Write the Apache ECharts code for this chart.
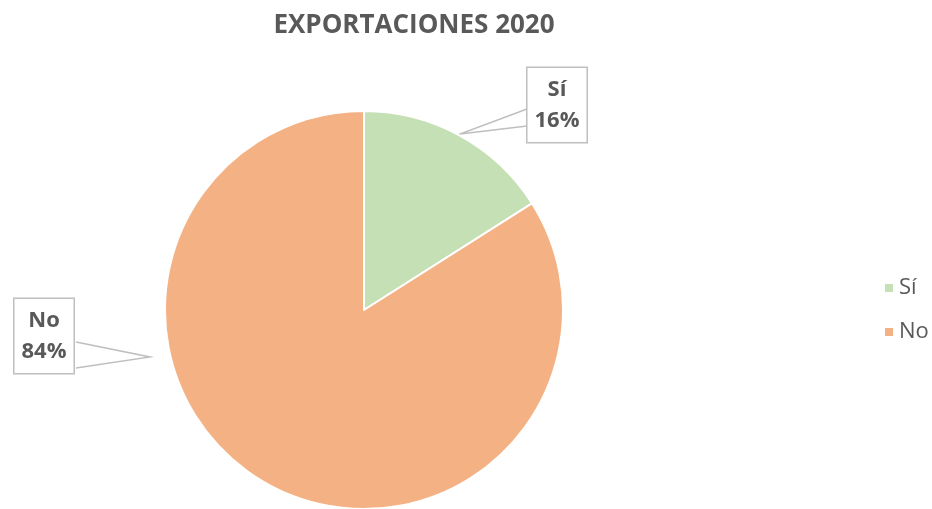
<!DOCTYPE html>
<html>
<head>
<meta charset="utf-8">
<script src="https://cdn.jsdelivr.net/npm/echarts@6/dist/echarts.min.js"></script>
<style>
html,body{margin:0;padding:0;background:#fff;}
#main{width:932px;height:509px;}
</style>
</head>
<body>
<div id="main"></div>
<script>
// datos
const categorias = ['Sí', 'No'];
const valores = [16, 84];
const colores = ['#C5E0B4', '#F4B183'];
const tituloTexto = 'EXPORTACIONES 2020';

// posiciones de las etiquetas (callouts) y de sus colas
const posEtiquetas = [[557, 105], [44, 336]];
const colasEtiquetas = [
    [[527, 109], [460, 134], [527, 126]],
    [[76, 342], [150, 357], [76, 368]]
];

const chart = echarts.init(document.getElementById('main'));
const option = {
    backgroundColor: '#fff',
    title: {
        text: tituloTexto,
        left: 409,
        top: 8,
        textAlign: 'center',
        textStyle: {
            fontFamily: 'Open Sans',
            fontWeight: 'bold',
            fontSize: 26,
            color: '#595959'
        }
    },
    legend: {
        orient: 'vertical',
        left: 878,
        top: 272,
        itemGap: 22,
        itemWidth: 10,
        itemHeight: 10,
        icon: 'rect',
        data: categorias,
        textStyle: {
            fontFamily: 'Open Sans',
            fontSize: 22,
            color: '#595959'
        }
    },
    series: [{
        type: 'pie',
        center: [364, 310],
        radius: 199,
        startAngle: 90,
        clockwise: true,
        animation: false,
        itemStyle: {
            borderColor: '#fff',
            borderWidth: 2
        },
        label: {
            show: true,
            position: 'outside',
            formatter: p => p.name + '\n' + p.value + '%',
            fontFamily: 'Open Sans',
            fontWeight: 'bold',
            fontSize: 22,
            lineHeight: 31,
            color: '#595959',
            backgroundColor: '#fff',
            borderColor: '#BFBFBF',
            borderWidth: 1.5,
            padding: [6, 7, 6, 7],
            align: 'center'
        },
        labelLine: {
            show: true,
            length: 15,
            length2: 20,
            lineStyle: {color: '#BFBFBF', width: 1.5}
        },
        labelLayout: function (params) {
            const i = params.dataIndex;
            return {
                x: posEtiquetas[i][0],
                y: posEtiquetas[i][1],
                align: 'center',
                verticalAlign: 'middle',
                labelLinePoints: colasEtiquetas[i]
            };
        },
        data: categorias.map((c, i) => ({
            name: c,
            value: valores[i],
            itemStyle: {color: colores[i]}
        }))
    }]
};
chart.setOption(option);
</script>
</body>
</html>
